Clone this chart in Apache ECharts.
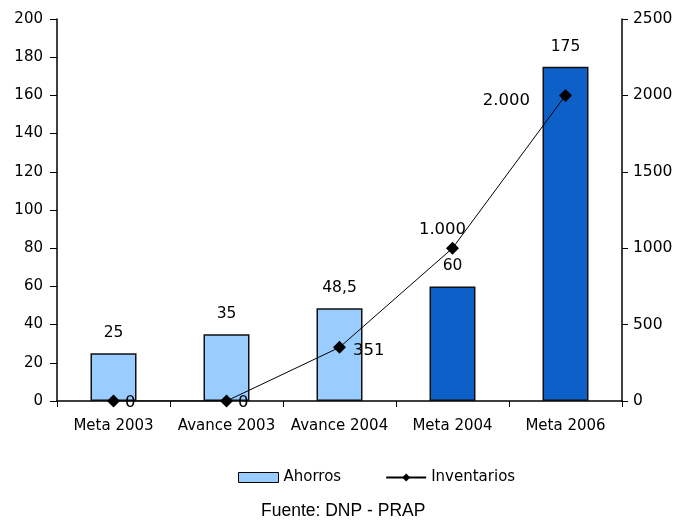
<!DOCTYPE html>
<html><head><meta charset="utf-8">
<script src="https://cdn.jsdelivr.net/npm/echarts@6/dist/echarts.min.js"></script>
<style>html,body{margin:0;padding:0;background:#fff}#c{width:679px;height:527px}</style>
</head><body><div id="c"></div>
<script>
const categories = ['Meta 2003','Avance 2003','Avance 2004','Meta 2004','Meta 2006'];
const ahorros = [25, 35, 48.5, 60, 175];
const ahorrosLabels = ['25','35','48,5','60','175'];
const inventarios = [0, 0, 351, 1000, 2000];
const inventariosLabels = ['0','0','351','1.000','2.000'];
const leftTicks = [0,20,40,60,80,100,120,140,160,180,200];
const rightTicks = [0,500,1000,1500,2000,2500];

const font = 'DejaVu Sans, sans-serif';
const lightBlue = '#99ccff', darkBlue = '#0c60c8';
const barColors = [lightBlue, lightBlue, lightBlue, darkBlue, darkBlue];
const lineLabelPos = [
  {position:'right', offset:[0,2]},
  {position:'right', offset:[0,2]},
  {position:'right', offset:[2,3]},
  {position:'top', offset:[-10,2]},
  {position:'left', offset:[-24,5]}
];

const chart = echarts.init(document.getElementById('c'), null, {renderer:'canvas'});
chart.setOption({
  animation:false,
  textStyle:{fontFamily:font},
  grid:{left:57, right:57, top:19, bottom:126},
  legend:{
    top:465, left:233, itemGap:44, itemWidth:40, itemHeight:10,
    textStyle:{fontFamily:font, fontSize:15, color:'#000'},
    data:[
      {name:'Ahorros', icon:'rect', itemStyle:{color:lightBlue, borderColor:'#000', borderWidth:1}},
      {name:'Inventarios'}
    ]
  },
  title:{
    text:'Fuente: DNP - PRAP', left:256, top:497,
    textStyle:{fontFamily:'Liberation Sans, Arial, sans-serif', fontSize:17.5, fontWeight:'normal', color:'#000'}
  },
  xAxis:{
    type:'category', data:categories,
    axisLine:{lineStyle:{color:'#000', width:1.5}},
    axisTick:{show:true, length:6, lineStyle:{color:'#000'}},
    axisLabel:{color:'#000', fontSize:15, margin:18, fontFamily:font, interval:0, hideOverlap:false}
  },
  yAxis:[
    {type:'value', min:0, max:200, interval:20, splitLine:{show:false},
     axisLine:{show:true, lineStyle:{color:'#000', width:1.5}},
     axisTick:{show:true, length:7, lineStyle:{color:'#000'}},
     axisLabel:{color:'#000', fontSize:15, margin:14, fontFamily:font,
       formatter:v=>leftTicks.includes(v)?String(v):''}},
    {type:'value', min:0, max:2500, interval:500, splitLine:{show:false},
     axisLine:{show:true, lineStyle:{color:'#000', width:1.5}},
     axisTick:{show:true, length:6, lineStyle:{color:'#000'}},
     axisLabel:{color:'#000', fontSize:15.5, margin:11, fontFamily:font,
       formatter:v=>rightTicks.includes(v)?String(v):''}}
  ],
  series:[
    {name:'Ahorros', type:'bar', yAxisIndex:0, barWidth:46,
     data:ahorros.map((v,i)=>({value:v, itemStyle:{color:barColors[i]}})),
     itemStyle:{borderColor:'#111', borderWidth:1.5},
     label:{show:true, position:'top', distance:12, color:'#000', fontSize:15.5, fontFamily:font,
       formatter:p=>ahorrosLabels[p.dataIndex]}},
    {name:'Inventarios', type:'line', yAxisIndex:1, z:5,
     symbol:'diamond', symbolSize:13,
     lineStyle:{color:'#000', width:1},
     itemStyle:{color:'#000'},
     data:inventarios.map((v,i)=>({value:v, label:lineLabelPos[i]})),
     label:{show:true, color:'#000', fontSize:16.5, fontFamily:font,
       formatter:p=>inventariosLabels[p.dataIndex]}}
  ]
});
</script></body></html>
